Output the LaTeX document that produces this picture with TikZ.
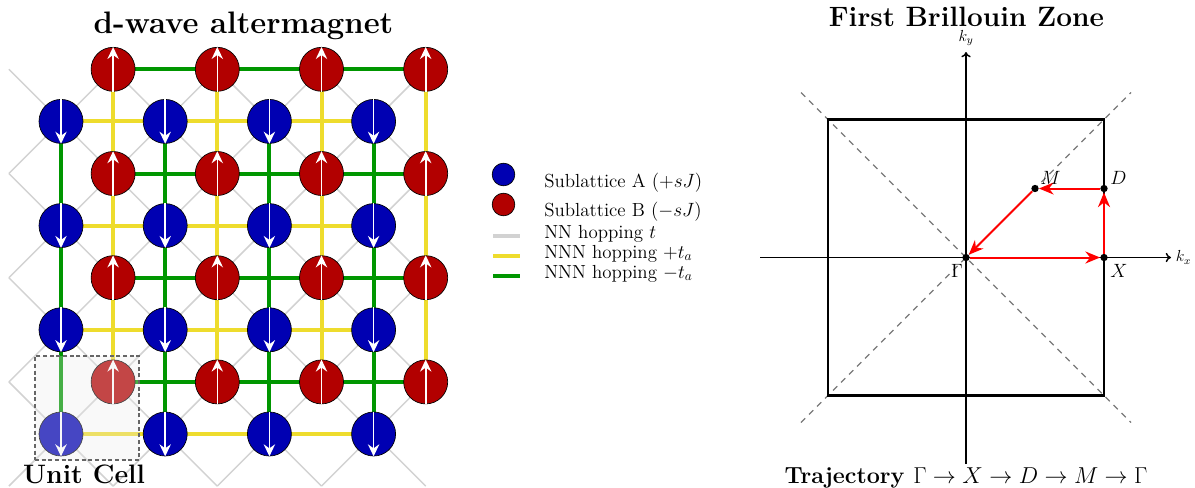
\documentclass[tikz,border=0pt]{standalone}
\usetikzlibrary{arrows.meta}
\pgfdeclarelayer{bg}
\pgfsetlayers{bg,main}
\definecolor{siteblue}{RGB}{0,0,178}
\definecolor{sitered}{RGB}{178,0,0}
\definecolor{hopyellow}{RGB}{238,220,45}
\definecolor{hopgreen}{RGB}{0,150,0}
\definecolor{hopgray}{RGB}{210,210,210}
\definecolor{diaggray}{RGB}{120,120,120}
\begin{document}
\begin{tikzpicture}[x=0.75pt,y=-0.75pt,
  siteA/.style={circle,draw=black,line width=0.5pt,fill=siteblue,minimum size=33pt,inner sep=0pt},
  siteB/.style={circle,draw=black,line width=0.5pt,fill=sitered,minimum size=33pt,inner sep=0pt},
  nnline/.style={draw=hopgray,line width=1.1pt},
  nnnplus/.style={draw=hopyellow,line width=3pt},
  nnnminus/.style={draw=hopgreen,line width=3pt},
  spin/.style={draw=white,line width=1.2pt,-{Stealth[length=9pt,width=8.5pt,inset=3pt]}},
  cellbox/.style={draw=black!60,dash pattern=on 3pt off 2pt,line width=0.9pt,fill=black!8,fill opacity=0.3,minimum width=78pt,minimum height=78pt,inner sep=0pt},
  ltitlefont/.style={font=\fontsize{23.3}{27}\selectfont\bfseries,inner sep=0pt},
  rtitlefont/.style={font=\fontsize{21}{25}\selectfont\bfseries,inner sep=0pt},
  celltitlefont/.style={font=\fontsize{20}{24}\selectfont\bfseries,inner sep=0pt},
  trajtitlefont/.style={font=\fontsize{17.5}{20}\selectfont\bfseries,inner sep=0pt},
  legtext/.style={font=\fontsize{14.2}{16}\selectfont,anchor=base west,inner sep=0pt},
  legline/.style={line width=2.4pt},
  axisline/.style={draw=black,line width=1.1pt,-{To[length=4pt,width=7pt]}},
  diagline/.style={draw=diaggray,line width=0.9pt,dash pattern=on 4.5pt off 4pt},
  bzline/.style={draw=black,line width=2pt},
  kpt/.style={circle,fill=black,inner sep=0pt,minimum size=5.5pt},
  traj/.style={draw=red,line width=1.5pt,-{Stealth[length=11pt,width=9pt,inset=3.5pt]}},
  ptlabel/.style={font=\fontsize{14.5}{17}\selectfont,inner sep=0pt},
  klabel/.style={font=\fontsize{12}{14}\selectfont,inner sep=0.5pt}
]
\useasboundingbox (0,0) rectangle (1195,487);

% ---------------- lattice sites ----------------
\foreach \i in {0,...,3}{
  \foreach \j in {0,...,3}{
    \node[siteA] (A-\i-\j) at ({61+104.2*\i},{434-104.2*\j}) {};
    \node[siteB] (B-\i-\j) at ({113.1+104.2*\i},{381.9-104.2*\j}) {};
  }
}
% ghost positions of the B lattice (index shifted by +1)
\foreach \i in {0,...,4}{
  \foreach \j in {0,...,4}{
    \coordinate (g-\i-\j) at ({113.1+104.2*(\i-1)},{381.9-104.2*(\j-1)});
  }
}

\begin{pgfonlayer}{bg}
  % NN hopping (gray diagonals)
  \foreach \i in {0,...,3}{
    \foreach \j in {0,...,3}{
      \pgfmathtruncatemacro\ip{\i+1}
      \pgfmathtruncatemacro\jp{\j+1}
      \draw[nnline] (g-\i-\j) -- (A-\i-\j.center) -- (g-\ip-\jp);
      \draw[nnline] (g-\i-\jp) -- (A-\i-\j.center) -- (g-\ip-\j);
    }
  }
  % NNN +t_a (yellow): A horizontal, B vertical
  \foreach \i/\k in {0/1,1/2,2/3}{
    \foreach \j in {0,...,3}{
      \draw[nnnplus] (A-\i-\j.center) -- (A-\k-\j.center);
      \draw[nnnplus] (B-\j-\i.center) -- (B-\j-\k.center);
    }
  }
  % NNN -t_a (green): A vertical, B horizontal
  \foreach \i/\k in {0/1,1/2,2/3}{
    \foreach \j in {0,...,3}{
      \draw[nnnminus] (A-\j-\i.center) -- (A-\j-\k.center);
      \draw[nnnminus] (B-\i-\j.center) -- (B-\k-\j.center);
    }
  }
\end{pgfonlayer}

% spins
\foreach \i in {0,...,3}{
  \foreach \j in {0,...,3}{
    \draw[spin] (A-\i-\j.north) -- (A-\i-\j.south);
    \draw[spin] (B-\i-\j.south) -- (B-\i-\j.north);
  }
}

% unit cell
\node[cellbox] (cell) at (87,408) {};
\node[celltitlefont,anchor=base] (celltext) at (84,483) {Unit Cell};

% title
\node[ltitlefont,anchor=base] (ltitle) at (243.5,33) {d-wave altermagnet};

% ---------------- legend ----------------
\node[siteA,minimum size=17pt] (legA) at (503.5,174.5) {};
\node[siteB,minimum size=17pt] (legB) at (503.5,204.5) {};
\coordinate (l1a) at (493,236); \coordinate (l1b) at (520,236);
\coordinate (l2a) at (493,256); \coordinate (l2b) at (520,256);
\coordinate (l3a) at (493,276); \coordinate (l3b) at (520,276);
\draw[legline,draw=hopgray] (l1a) -- (l1b);
\draw[legline,draw=hopyellow] (l2a) -- (l2b);
\draw[legline,draw=hopgreen] (l3a) -- (l3b);
\node[legtext] (tA) at (544,187) {Sublattice A $(+sJ)$};
\node[legtext] (tB) at (544,216) {Sublattice B $(-sJ)$};
\node[legtext] (t1) at (544,238) {NN hopping $t$};
\node[legtext] (t2) at (544,258) {NNN hopping $+t_a$};
\node[legtext] (t3) at (544,278) {NNN hopping $-t_a$};

% ---------------- Brillouin zone ----------------
\node[rtitlefont,anchor=base] (rtitle) at (966.5,26) {First Brillouin Zone};

\coordinate (d1a) at (801,92.5);  \coordinate (d1b) at (1131,422.5);
\coordinate (d2a) at (801,422.5); \coordinate (d2b) at (1131,92.5);
\draw[diagline] (d1a) -- (d1b);
\draw[diagline] (d2a) -- (d2b);

\coordinate (kxs) at (760,257.5); \coordinate (kxe) at (1171,257.5);
\coordinate (kys) at (966,464);   \coordinate (kye) at (966,52);
\draw[axisline] (kxs) -- (kxe);
\draw[axisline] (kys) -- (kye);
\node[klabel,anchor=west] (kxl) at (1175,257.5) {$k_x$};
\node[klabel,anchor=south] (kyl) at (966,47) {$k_y$};

\coordinate (bzSW) at (828,395.5); \coordinate (bzNE) at (1104,119.5);
\draw[bzline] (bzSW) rectangle (bzNE);

\node[kpt] (G) at (966,257.5) {};
\node[kpt] (X) at (1104,257.5) {};
\node[kpt] (D) at (1104,188.5) {};
\node[kpt] (M) at (1035,188.5) {};

\draw[traj] (G) -- (X);
\draw[traj] (X) -- (D);
\draw[traj] (D) -- (M);
\draw[traj] (M) -- (G);

\node[ptlabel,anchor=north east] (GL) at (963,264) {$\Gamma$};
\node[ptlabel,anchor=north west] (XL) at (1110,264) {$X$};
\node[ptlabel,anchor=base west] (DL) at (1110,184) {$D$};
\node[ptlabel,anchor=base west] (ML) at (1040,184) {$M$};

\node[trajtitlefont,anchor=base] (traj) at (966,483) {Trajectory $\Gamma\to X\to D\to M\to\Gamma$};
\end{tikzpicture}
\end{document}
